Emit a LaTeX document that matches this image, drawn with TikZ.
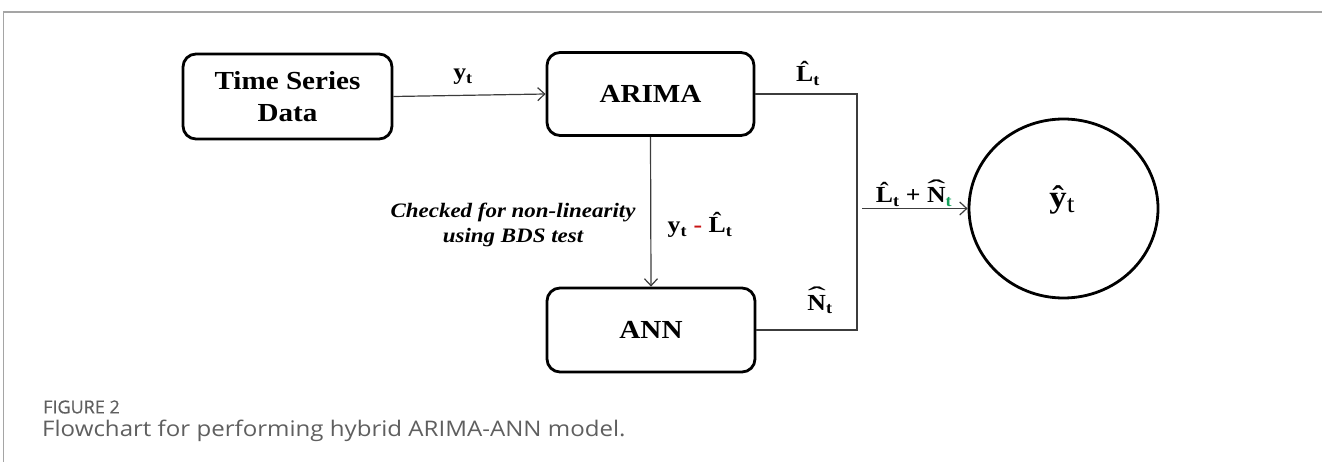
\documentclass[tikz,border=0pt]{standalone}
\usepackage{fix-cm}
\usepackage[no-math]{fontspec}
\setmainfont{Liberation Serif}[FakeStretch=1.12]
\newfontfamily\capfont{Open Sans}
\usetikzlibrary{arrows.meta,shapes.geometric}

\definecolor{minusred}{RGB}{200,20,20}
\definecolor{subgreen}{RGB}{20,160,90}
\definecolor{framegray}{RGB}{165,165,165}
\definecolor{capgray}{RGB}{95,95,95}
\definecolor{linkgray}{RGB}{60,60,60}

% capital letter with a circumflex hat set above it
\newcommand{\capHat}[1]{\leavevmode\ooalign{#1\cr\hidewidth\raisebox{0.2em}{\char"02C6}\hidewidth\cr}}
\newcommand{\capWideHat}[1]{\leavevmode\ooalign{#1\cr\hidewidth\raisebox{0.22em}{\scalebox{2.1}[1.1]{\mdseries\char"02C6}}\hidewidth\cr}}
\newcommand{\Lhat}{\capHat{L}}
\newcommand{\Nhat}{\capWideHat{N}}
\newcommand{\idx}[1]{\textsubscript{#1}}

\tikzset{
  procbox/.style={draw, line width=2.8pt, rounded corners=13pt, align=center,
    inner sep=0pt, font=\fontsize{26}{32}\selectfont\bfseries},
  link/.style={draw=linkgray, line width=1.2pt},
  arr/.style={link, -{Straight Barb[length=7pt,width=13pt,line width=1.2pt]}},
  lbl/.style={font=\fontsize{23}{26}\selectfont\bfseries, inner sep=0pt},
  note/.style={font=\fontsize{20.5}{25}\selectfont\bfseries\itshape, align=center, inner sep=0pt},
}

\begin{document}
\begin{tikzpicture}[x=1pt,y=-1pt]
\useasboundingbox (0,0) rectangle (1322,462);

% page frame
\coordinate (f0) at (3.5,12);
\coordinate (f1) at (1322,12);
\coordinate (f2) at (3.5,462);
\draw[framegray, line width=1.6pt] (f2) -- (f0) -- (f1);

% process boxes
\node[procbox, minimum width=209pt, minimum height=85pt] (ts) at (287.5,96.5) {Time Series\\Data};
\node[procbox, minimum width=207pt, minimum height=83pt] (arima) at (650.5,94) {ARIMA};
\node[procbox, minimum width=208pt, minimum height=84pt] (ann) at (651,330) {ANN};
\node[draw, ellipse, line width=2.8pt, minimum width=189pt, minimum height=179pt] (out) at (1063.5,208.5) {};

% output symbol
\node[inner sep=0pt, anchor=base] (yhat) at (1062,208)
  {\fontsize{31}{34}\selectfont\textbf{ŷ}\raisebox{-5pt}{\fontsize{25}{28}\selectfont t}};

% connectors
\coordinate (j) at (857,0);
\coordinate (s) at (862,208.5);
\draw[arr] (ts.east) -- (arima.west);
\draw[arr] (arima.south) -- (ann.north);
\draw[link] (arima.east) -- (arima.east -| j) -- (ann.east -| j) -- (ann.east);
\draw[arr] (s) -- (out.west);

% connector labels
\node[lbl, anchor=base] (lyt) at (463,80) {y\idx{t}};
\node[lbl, anchor=base] (llt) at (808,82) {\Lhat\idx{t}};
\node[lbl, anchor=base] (lres) at (700,233) {y\idx{t} \textcolor{minusred}{-} \Lhat\idx{t}};
\node[lbl, anchor=base] (lnt) at (820,310) {\Nhat\idx{t}};
\node[lbl, anchor=base] (lsum) at (914,203) {\Lhat\idx{t} + \Nhat\idx{\textcolor{subgreen}{t}}};
\node[note] (chk) at (513,225) {Checked for non-linearity\\using BDS test};

% caption
\node[anchor=west, inner sep=0pt, text=capgray, font=\capfont\addfontfeature{FakeBold=0.5}\fontsize{18}{20}\selectfont] (fig) at (43,407) {FIGURE 2};
\node[anchor=west, inner sep=0pt, text=capgray, font=\capfont\addfontfeature{FakeStretch=1.12}\fontsize{21.5}{24}\selectfont] (cap) at (42,431) {Flowchart for performing hybrid ARIMA-ANN model.};
\end{tikzpicture}
\end{document}
